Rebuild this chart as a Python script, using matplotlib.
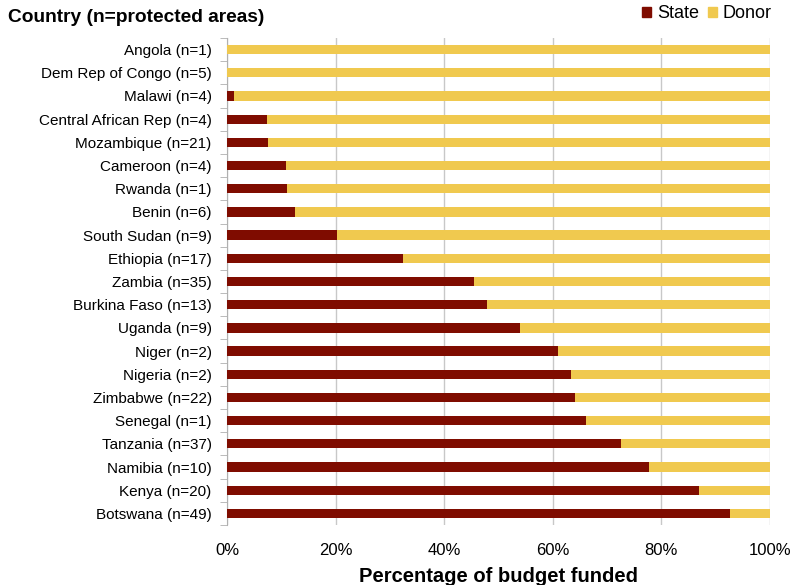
import matplotlib.pyplot as plt
import numpy as np
from matplotlib.patches import Patch

plt.rcParams['font.family'] = ['Liberation Sans', 'DejaVu Sans']

# —–––– Data (top to bottom) —––––
countries = ['Angola (n=1)', 'Dem Rep of Congo (n=5)', 'Malawi (n=4)',
             'Central African Rep (n=4)', 'Mozambique (n=21)', 'Cameroon (n=4)',
             'Rwanda (n=1)', 'Benin (n=6)', 'South Sudan (n=9)', 'Ethiopia (n=17)',
             'Zambia (n=35)', 'Burkina Faso (n=13)', 'Uganda (n=9)', 'Niger (n=2)',
             'Nigeria (n=2)', 'Zimbabwe (n=22)', 'Senegal (n=1)', 'Tanzania (n=37)',
             'Namibia (n=10)', 'Kenya (n=20)', 'Botswana (n=49)']
state = [0.0, 0.0, 1.3, 7.3, 7.6, 10.8, 11.0, 12.6, 20.3, 32.4,
         45.5, 47.9, 53.9, 61.0, 63.4, 64.1, 66.2, 72.6, 77.8, 87.0, 92.6]
donor = [100 - s for s in state]

state_col = '#7f0c00'
donor_col = '#f0c94f'

fig = plt.figure(figsize=(7.93, 5.85), dpi=100)
ax = fig.add_axes([227 / 793, 1 - 525 / 585, 543 / 793, 487 / 585])

y = np.arange(len(countries))
ax.barh(y, state, height=0.4, color=state_col, zorder=3)
ax.barh(y, donor, left=state, height=0.4, color=donor_col, zorder=3)

ax.set_ylim(len(countries) - 0.5, -0.5)
ax.set_xlim(0, 100)
ax.set_yticks(y)
ax.set_yticklabels(countries, fontsize=11)
ax.tick_params(axis='y', length=0, pad=11)
# Excel-style ticks between categories
ax.set_yticks(np.arange(-0.5, len(countries)), minor=True)
ax.tick_params(axis='y', which='minor', length=5, color='#b0b0b0')

ax.set_xticks(np.arange(0, 101, 20))
ax.set_xticklabels([f'{v}%' for v in range(0, 101, 20)], fontsize=12)
ax.tick_params(axis='x', length=0, pad=13)
ax.grid(axis='x', color='#c8c8c8', linewidth=1, zorder=0)

for s in ['top', 'right', 'bottom']:
    ax.spines[s].set_visible(False)
ax.spines['left'].set_color('#b0b0b0')

# axis title placed on the figure so it never gets pushed off the bottom
fig.text((227 + 770) / 2 / 793, 1 - 576 / 585, 'Percentage of budget funded',
         fontsize=14.5, fontweight='bold', ha='center', va='center')

fig.text(8 / 793, 1 - 18 / 585, 'Country (n=protected areas)', fontsize=13.8,
         fontweight='bold', va='center', ha='left')

handles = [Patch(color=state_col, label='State'), Patch(color=donor_col, label='Donor')]
fig.legend(handles=handles, loc='center right', bbox_to_anchor=(781 / 793, 1 - 14 / 585),
           ncol=2, frameon=False, fontsize=13, handlelength=0.5, handleheight=0.5,
           handletextpad=0.35, columnspacing=0.45, borderpad=0)

fig.savefig('out.png', dpi=100)
